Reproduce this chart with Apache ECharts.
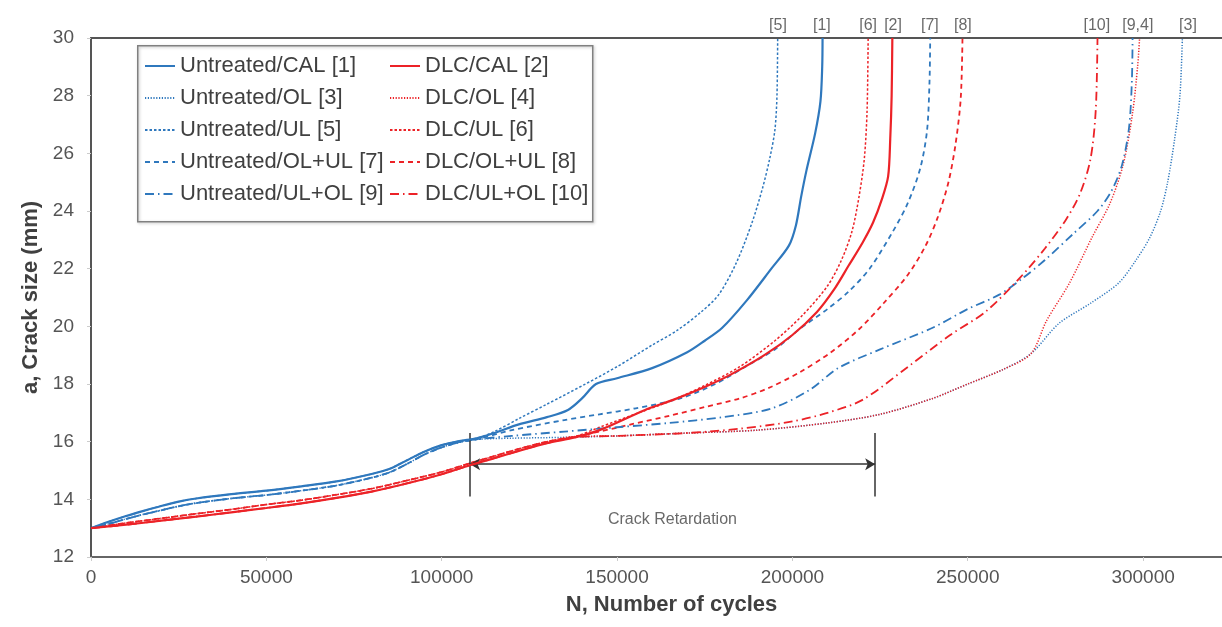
<!DOCTYPE html>
<html>
<head>
<meta charset="utf-8">
<script src="https://cdn.jsdelivr.net/npm/echarts@6/dist/echarts.min.js"></script>
<style>
html,body{margin:0;padding:0;background:#fff;}
#chart{width:1222px;height:627px;}
</style>
</head>
<body>
<div id="chart"></div>
<script>
// ---------- DATA (N cycles, crack size a in mm) ----------
var seriesNames = [
  'Untreated/CAL [1]', 'DLC/CAL [2]',
  'Untreated/OL [3]', 'DLC/OL [4]',
  'Untreated/UL [5]', 'DLC/UL [6]',
  'Untreated/OL+UL [7]', 'DLC/OL+UL [8]',
  'Untreated/UL+OL [9]', 'DLC/UL+OL [10]'
];

// shared early parts of the curves (before divergence)
var earlyUntreatedHi = [[0,13],[5000,13.22],[10000,13.42],[15000,13.6],[20000,13.77],[25000,13.92],[30000,14.03],[40000,14.18],[50000,14.3],[60000,14.45],[70000,14.62],[80000,14.88],[85000,15.05],[90000,15.35],[95000,15.65],[100000,15.88],[105000,16.02],[110000,16.12]];
var earlyUntreatedLo = [[0,13],[5000,13.15],[10000,13.32],[15000,13.48],[20000,13.62],[25000,13.76],[30000,13.87],[40000,14.03],[50000,14.15],[60000,14.3],[70000,14.48],[80000,14.75],[85000,14.93],[90000,15.22],[95000,15.55],[100000,15.8],[105000,15.98],[110000,16.08]];
var earlyDlcHi = [[0,13],[10000,13.18],[20000,13.34],[30000,13.5],[40000,13.65],[50000,13.82],[60000,13.97],[70000,14.16],[80000,14.37],[90000,14.65],[100000,14.95],[108000,15.25],[115000,15.5],[122000,15.75],[130000,16.0],[138000,16.18]];
var earlyDlcLo = [[0,13],[10000,13.12],[20000,13.26],[30000,13.4],[40000,13.55],[50000,13.7],[60000,13.86],[70000,14.05],[80000,14.27],[90000,14.55],[100000,14.87],[108000,15.18],[115000,15.43],[122000,15.68],[130000,15.95],[138000,16.15]];

var untreatedCAL1 = [[115000,16.3],[122000,16.6],[130000,16.85],[136000,17.1],[140000,17.5],[144000,18.0],[150000,18.2],[160000,18.55],[170000,19.1],[175000,19.5],[180000,19.95],[187000,20.9],[194000,22.0],[199000,22.8],[201000,23.5],[202500,24.5],[204000,25.4],[206500,26.7],[208000,27.8],[208500,29.0],[208600,30]];
var dlcCAL2 = [[145000,16.4],[158000,17.1],[166000,17.45],[175000,17.9],[182000,18.3],[192000,19.0],[200000,19.7],[207000,20.5],[212000,21.3],[216000,22.1],[220000,22.9],[223000,23.6],[225500,24.4],[227300,25.2],[227900,26.5],[228300,28.0],[228500,30]];
var untreatedOL3 = [[120000,16.12],[135000,16.15],[150000,16.2],[170000,16.3],[190000,16.4],[210000,16.65],[225000,16.95],[240000,17.5],[250000,18.0],[260000,18.5],[268000,19.05],[276000,20.1],[285000,20.8],[293000,21.5],[298000,22.3],[302000,23.1],[305000,24.0],[307000,25.0],[309000,26.5],[310500,28.0],[311200,30]];
var dlcOL4 = [[150000,16.2],[170000,16.3],[190000,16.4],[210000,16.65],[225000,16.95],[240000,17.5],[250000,18.0],[260000,18.5],[268000,19.05],[272500,20.2],[279000,21.5],[285500,23.1],[290500,24.25],[294300,25.6],[297000,27.4],[298500,29.1],[299000,30]];
var untreatedUL5 = [[115000,16.35],[122000,16.8],[130000,17.3],[141000,18.0],[150000,18.6],[160000,19.35],[167000,19.85],[174000,20.5],[179000,21.1],[184000,22.2],[188500,23.6],[191500,24.8],[193500,25.8],[195000,26.8],[195600,28.0],[195800,30]];
var dlcUL6 = [[145000,16.5],[155000,16.95],[165000,17.4],[175000,17.95],[185000,18.6],[195000,19.5],[203000,20.4],[210000,21.4],[214000,22.3],[217000,23.3],[219000,24.5],[220500,25.8],[221300,27.5],[221600,30]];
var untreatedOLUL7 = [[120000,16.4],[135000,16.75],[145000,16.95],[155000,17.15],[168000,17.5],[178000,18.0],[188000,18.7],[195000,19.2],[202000,19.9],[210000,20.6],[216000,21.2],[222000,22.0],[228700,23.3],[233000,24.3],[236500,25.5],[238400,26.8],[239100,28.5],[239300,30]];
var dlcOLUL8 = [[145000,16.35],[154000,16.6],[165000,16.9],[175000,17.2],[185000,17.5],[193000,17.85],[202000,18.4],[211000,19.1],[219000,19.9],[226000,20.8],[233000,21.8],[238000,22.8],[241500,23.8],[244500,25.0],[246500,26.3],[248000,27.9],[248500,30]];
var untreatedULOL9 = [[120000,16.2],[135000,16.35],[150000,16.5],[165000,16.65],[180000,16.85],[194000,17.15],[205000,17.8],[213000,18.55],[225000,19.2],[240000,19.95],[250000,20.6],[259000,21.1],[266000,21.7],[272000,22.3],[280000,23.2],[287000,24.0],[291000,24.7],[294000,25.6],[296000,26.9],[296800,28.5],[297000,30]];
var dlcULOL10 = [[150000,16.2],[170000,16.3],[185000,16.45],[200000,16.7],[210000,17.0],[220000,17.45],[233000,18.6],[245000,19.7],[255000,20.5],[265000,21.7],[272000,22.7],[278000,23.7],[282000,24.6],[285000,25.8],[286500,27.5],[287000,30]];

// end-of-curve labels above the frame
var endLabels = ['[5]','[1]','[6]','[2]','[7]','[8]','[10]','[9,4]','[3]'];
var endLabelN = [195900, 208400, 221600, 228700, 239200, 248600, 286800, 298500, 312800];

// crack retardation annotation
var retardStartN = 108100, retardEndN = 223600, retardA = 15.22, retardBarTop = 16.3, retardBarBottom = 14.1;
var retardText = 'Crack Retardation', retardTextN = 165800, retardTextA = 13.3;

// axis ticks
var xMin = 0, xMax = 322500, xStep = 50000;
var yMin = 12, yMax = 30, yStep = 2;

// ---------- STYLES ----------
var FONT = 'Liberation Sans, Arial, sans-serif';
var BLUE = '#2f78bd', RED = '#ec2227';
var styles = [
  {c: BLUE, w: 2.2, t: 'solid'},
  {c: RED, w: 2.2, t: 'solid'},
  {c: BLUE, w: 1.5, t: [1.2, 1.6]},
  {c: RED, w: 1.5, t: [1.2, 1.6]},
  {c: BLUE, w: 1.5, t: [2.5, 2]},
  {c: RED, w: 1.5, t: [2.5, 2]},
  {c: BLUE, w: 1.8, t: [5, 4]},
  {c: RED, w: 1.8, t: [5, 4]},
  {c: BLUE, w: 1.8, t: [9, 4, 1.5, 4]},
  {c: RED, w: 1.8, t: [9, 4, 1.5, 4]}
];
var seriesData = [
  earlyUntreatedHi.concat(untreatedCAL1),
  earlyDlcLo.concat(dlcCAL2),
  earlyUntreatedLo.concat(untreatedOL3),
  earlyDlcHi.concat(dlcOL4),
  earlyUntreatedHi.concat(untreatedUL5),
  earlyDlcHi.concat(dlcUL6),
  earlyUntreatedLo.concat(untreatedOLUL7),
  earlyDlcHi.concat(dlcOLUL8),
  earlyUntreatedLo.concat(untreatedULOL9),
  earlyDlcLo.concat(dlcULOL10)
];

var series = seriesNames.map(function (name, i) {
  var s = styles[i];
  return {
    name: name, type: 'line', data: seriesData[i], showSymbol: false, symbol: 'none',
    smooth: 0.3, animation: false, z: i === 0 || i === 1 ? 5 : 3,
    lineStyle: {color: s.c, width: s.w, type: s.t},
    itemStyle: {color: s.c}
  };
});

// end labels
series.push({
  type: 'scatter', name: 'endLabels', symbolSize: 0, silent: true, animation: false,
  data: endLabels.map(function (l, i) { return {value: [endLabelN[i], yMax], name: l}; }),
  label: {show: true, position: 'top', distance: 4, formatter: '{b}', color: '#444',
    fontFamily: FONT, fontSize: 16},
  clip: false
});

// crack retardation arrow + text
series.push({
  type: 'line', name: 'annot', data: [], animation: false, silent: true,
  markLine: {
    silent: true, animation: false,
    lineStyle: {color: '#333', width: 1.5, type: 'solid'},
    label: {show: false},
    symbolSize: [9, 10],
    data: [
      [{coord: [retardStartN, retardA], symbol: 'arrow'}, {coord: [retardEndN, retardA], symbol: 'arrow'}],
      [{coord: [retardStartN, retardBarTop], symbol: 'none'}, {coord: [retardStartN, retardBarBottom], symbol: 'none'}],
      [{coord: [retardEndN, retardBarTop], symbol: 'none'}, {coord: [retardEndN, retardBarBottom], symbol: 'none'}]
    ]
  }
});
series.push({
  type: 'scatter', name: 'annotText', symbolSize: 0, silent: true, animation: false,
  data: [{value: [retardTextN, retardTextA], name: retardText}],
  label: {show: true, position: 'inside', formatter: '{b}', color: '#444',
    fontFamily: FONT, fontSize: 16}
});

var legendText = {color: '#404040', fontSize: 22, fontFamily: FONT};
var legendCommon = {
  orient: 'vertical', top: 50, itemWidth: 30, itemHeight: 14, itemGap: 10,
  textStyle: legendText, selectedMode: false, itemStyle: {opacity: 0}
};
var option = {
  backgroundColor: '#fff',
  animation: false,
  grid: {left: 91, right: 0, top: 38, bottom: 70, containLabel: false},
  xAxis: [{
    type: 'value', min: xMin, max: xMax, interval: xStep,
    name: 'N, Number of cycles', nameLocation: 'middle', nameGap: 37,
    nameTextStyle: {fontSize: 22, fontWeight: 'bold', color: '#404040', fontFamily: FONT, padding: [0, 0, 0, 30]},
    axisLine: {show: true, lineStyle: {color: '#666', width: 2}},
    axisTick: {show: true, length: 4, lineStyle: {color: '#ccc'}},
    axisLabel: {color: '#555', fontSize: 19, margin: 11, showMaxLabel: false, fontFamily: FONT,
      formatter: function (v) { return String(v); }},
    splitLine: {show: false}
  }, {
    type: 'value', position: 'top', min: xMin, max: xMax, interval: xStep,
    axisLine: {show: true, lineStyle: {color: '#555', width: 2}},
    axisTick: {show: false}, axisLabel: {show: false}, splitLine: {show: false}
  }],
  yAxis: {
    type: 'value', min: yMin, max: yMax, interval: yStep,
    name: 'a, Crack size (mm)', nameLocation: 'middle', nameGap: 49, nameRotate: 90,
    nameTextStyle: {fontSize: 22, fontWeight: 'bold', color: '#404040', fontFamily: FONT},
    axisLine: {show: true, lineStyle: {color: '#555', width: 2}},
    axisTick: {show: true, length: 4, lineStyle: {color: '#ccc'}},
    axisLabel: {color: '#555', fontSize: 19, margin: 17, fontFamily: FONT},
    splitLine: {show: false}
  },
  legend: [
    Object.assign({}, legendCommon, {left: 139,
      data: [seriesNames[0], seriesNames[2], seriesNames[4], seriesNames[6], seriesNames[8]]}),
    Object.assign({}, legendCommon, {left: 384,
      data: [seriesNames[1], seriesNames[3], seriesNames[5], seriesNames[7], seriesNames[9]]})
  ],
  graphic: [{
    type: 'rect', left: 137, top: 45, z: 100,
    shape: {width: 455, height: 176},
    style: {fill: 'rgba(0,0,0,0)', stroke: '#808080', lineWidth: 1.5,
      shadowBlur: 3, shadowColor: 'rgba(0,0,0,0.25)', shadowOffsetX: 1, shadowOffsetY: 1}
  }],
  series: series
};

var chart = echarts.init(document.getElementById('chart'), null, {renderer: 'canvas'});
chart.setOption(option);
</script>
</body>
</html>
